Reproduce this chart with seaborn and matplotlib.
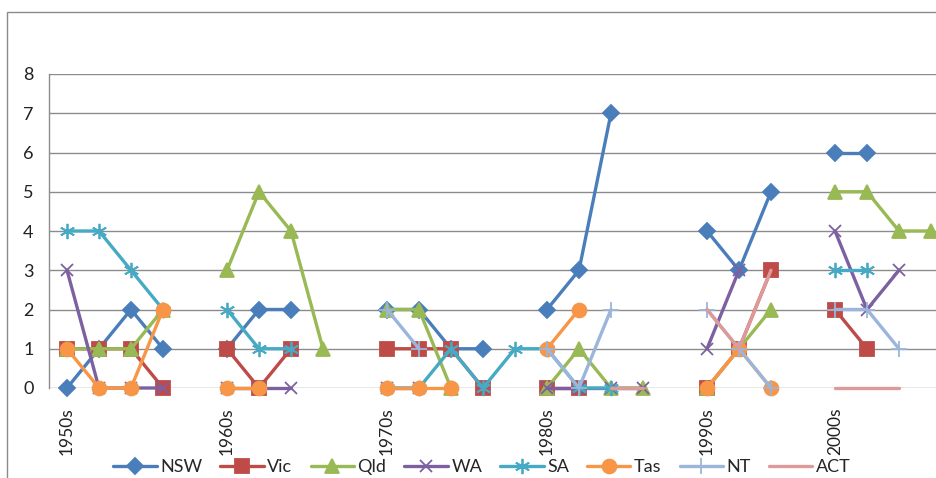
import numpy as np
import pandas as pd
import matplotlib
matplotlib.use("Agg")
import matplotlib.pyplot as plt
from matplotlib.patches import Rectangle
from matplotlib.lines import Line2D
import seaborn as sns

# Category slots along the x axis; decade labels sit on the first slot of each group
n_slots = 28
decade_labels = ["1950s", "1960s", "1970s", "1980s", "1990s", "2000s"]
decade_pos = [0, 5, 10, 15, 20, 24]

states = ["NSW", "Vic", "Qld", "WA", "SA", "Tas", "NT", "ACT"]
N = np.nan

#        1950s            1960s              1970s                 1980s              1990s           2000s
nsw = [0, 1, 2, 1, N,   1, 2, 2, N, N,   2, 2, 1, 1, N,      2, 3, 7, N, N,     4, 3, 5, N,     6, 6, N, N]
vic = [1, 1, 1, 0, N,   1, 0, 1, N, N,   1, 1, 1, 0, N,      0, 0, N, N, N,     0, 1, 3, N,     2, 1, N, N]
qld = [1, 1, 1, 2, N,   3, 5, 4, 1, N,   2, 2, 0, N, N,      0, 1, 0, 0, N,     0, 1, 2, N,     5, 5, 4, 4]
wa  = [3, 0, 0, 0, N,   0, 0, 0, N, N,   0, 0, N, N, N,      0, 0, 0, 0, N,     1, 3, N, N,     4, 2, 3, N]
sa  = [4, 4, 3, 2, N,   2, 1, 1, N, N,   0, 0, 1, 0, 1,      1, 0, 0, N, N,     N, N, N, N,     3, 3, N, N]
tas = [1, 0, 0, 2, N,   0, 0, N, N, N,   0, 0, 0, N, N,      1, 2, N, N, N,     0, 1, 0, N,     N, N, N, N]
nt  = [N, N, N, N, N,   N, N, N, N, N,   2, 1, N, N, N,      1, 0, 2, N, N,     2, 1, 0, N,     2, 2, 1, N]
act = [N, N, N, N, N,   N, N, N, N, N,   N, N, N, N, N,      N, N, 0, 0, N,     2, 1, 3, N,     0, 0, 0, N]

series = dict(zip(states, [nsw, vic, qld, wa, sa, tas, nt, act]))

colors = dict(zip(states, ["#4A7EBB", "#BE4B48", "#98B954", "#7D60A0",
                           "#46AAC5", "#F79646", "#9BB5DB", "#DD9A98"]))
markers = {"NSW": "D", "Vic": "s", "Qld": "^", "WA": "x", "SA": (6, 2, 0),
           "Tas": "o", "NT": "+", "ACT": ""}
msizes = {"NSW": 8.5, "Vic": 9.5, "Qld": 10, "WA": 9, "SA": 11,
          "Tas": 10, "NT": 11, "ACT": 0}

# Long-form table; each unbroken run of values gets its own unit id so gaps stay open
rows = []
seg_id = 0
for st in states:
    prev_nan = True
    for i, v in enumerate(series[st]):
        if np.isnan(v):
            prev_nan = True
            continue
        if prev_nan:
            seg_id += 1
            prev_nan = False
        rows.append({"pos": i, "value": v, "state": st, "seg": seg_id})
df = pd.DataFrame(rows)

sns.set_style("white")
plt.rcParams["font.family"] = ["Lato", "DejaVu Sans"]

W, H = 936, 478
fig = plt.figure(figsize=(W / 100, H / 100), dpi=100)

# outer chart frame
fig.patches.append(Rectangle((7 / W, -0.1), 1.2, 1 - 12 / H + 0.1, transform=fig.transFigure,
                             fill=False, edgecolor="#8a8a8a", linewidth=1.0))

left_px, right_px, top_px, bot_px = 49, 1000, 74, 388
ax = fig.add_axes([left_px / W, (H - bot_px) / H, (right_px - left_px) / W, (bot_px - top_px) / H])

lw = 2.4
handles = []
for st in states:
    sub = df[df["state"] == st]
    sns.lineplot(data=sub, x="pos", y="value", units="seg", estimator=None, sort=False,
                 color=colors[st], marker=markers[st], markersize=msizes[st],
                 markeredgecolor=colors[st], markeredgewidth=1.3,
                 linewidth=lw, ax=ax, clip_on=False, legend=False)
    handles.append(Line2D([], [], color=colors[st], marker=markers[st], markersize=msizes[st],
                          markeredgecolor=colors[st], markeredgewidth=1.3, linewidth=lw, label=st))

slot = 32.0
ax.set_xlim((left_px - 67) / slot, (right_px - 67) / slot)
ax.set_ylim(0, 8)
ax.set_yticks(range(0, 9))
ax.set_xticks(decade_pos)
ax.set_xticklabels(decade_labels, rotation=90, va="top", ha="center")
ax.set_xlabel("")
ax.set_ylabel("")
ax.grid(axis="y", color="#8c8c8c", linewidth=1.0)
ax.set_axisbelow(True)
for s in ["top", "right", "bottom"]:
    ax.spines[s].set_visible(False)
ax.spines["left"].set_color("#8c8c8c")
ax.spines["left"].set_linewidth(1.0)
ax.tick_params(axis="y", length=0, pad=11, labelsize=13, labelcolor="#222222")
ax.tick_params(axis="x", length=0, pad=14, labelsize=12.5, labelcolor="#222222")

fig.legend(handles=handles, loc="center", bbox_to_anchor=(482 / W, 1 - 467 / H), ncol=8,
           frameon=False, fontsize=13, handlelength=2.4, handletextpad=0.2,
           columnspacing=1.0, borderaxespad=0, borderpad=0)

fig.savefig("out.png", dpi=100)
